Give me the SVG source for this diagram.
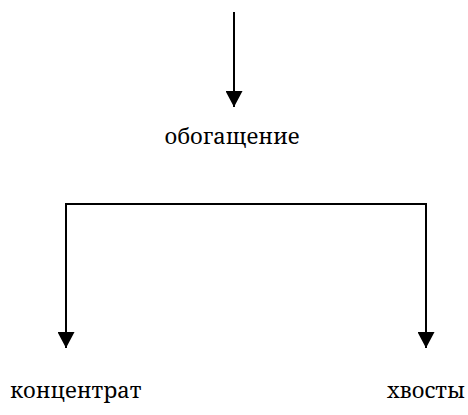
<svg xmlns="http://www.w3.org/2000/svg" width="468" height="415" viewBox="0 0 468 415">
<style>
.c{stroke:#000;stroke-width:2;fill:none}
</style>
<defs>
<marker id="ah" markerWidth="16" markerHeight="17" refX="16" refY="8.5" orient="auto" markerUnits="userSpaceOnUse">
<path d="M0,0 L16,8.5 L0,17 Z" fill="#000"/>
</marker>
</defs>
<rect width="468" height="415" fill="#fff"/>
<g id="connectors">
<path class="c" d="M234,12 V107" marker-end="url(#ah)"/>
<path class="c" d="M66,348 V204 H426 V348" />
<path class="c" d="M66,300 V348" marker-end="url(#ah)"/>
<path class="c" d="M426,300 V348" marker-end="url(#ah)"/>
</g>
<g font-family="Noto Serif, Liberation Serif, serif" font-size="22" fill="#000">
<g id="node-obogashchenie"><text x="232" y="144" text-anchor="middle">обогащение</text></g>
<g id="node-koncentrat"><text x="10" y="398">концентрат</text></g>
<g id="node-hvosty"><text x="465" y="398" text-anchor="end">хвосты</text></g>
</g>
</svg>
